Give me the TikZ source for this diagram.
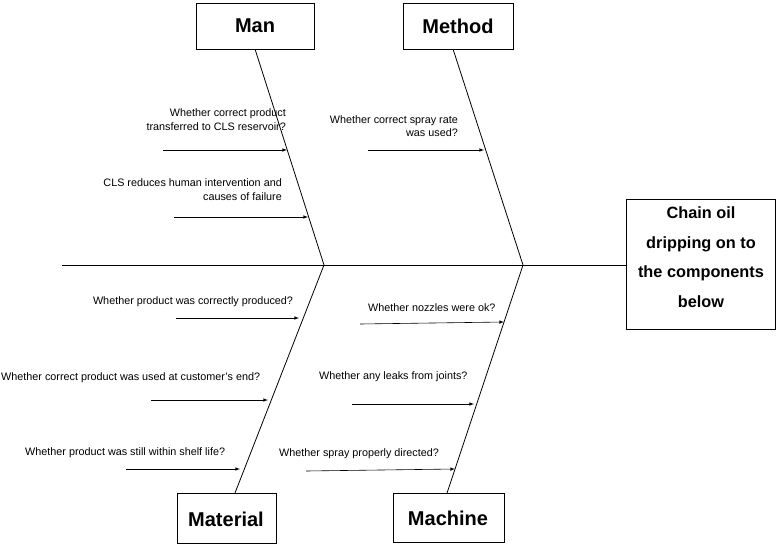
\documentclass[tikz,border=0pt]{standalone}
\usepackage{fontspec}
\setmainfont{Liberation Sans}
\begin{document}
\begin{tikzpicture}[x=1pt,y=-1pt,
  box/.style={draw,thick,minimum width=0pt},
  ttl/.style={font=\fontsize{20}{22}\selectfont\bfseries},
  lbl/.style={font=\fontsize{10.8}{13.5}\selectfont,inner sep=0pt},
  arr/.style={-latex,line width=0.6pt},
  bone/.style={line width=0.8pt}]
\useasboundingbox (0,0) rectangle (776,544);
\draw[box] (196,3) rectangle (314,49); \node[ttl] (man) at (255,26) {Man};
\draw[box] (403,3) rectangle (513,49); \node[ttl] (method) at (458,26) {Method};
\draw[box] (177,493) rectangle (276,543); \node[ttl] (material) at (226,519) {Material};
\draw[box] (393,493) rectangle (504,542); \node[ttl] (machine) at (448,518) {Machine};
\draw[box] (626,199) rectangle (775,329);
\node[font=\fontsize{16.3}{29.5}\selectfont\bfseries,align=center] (effect) at (701,257) {Chain oil\\dripping on to\\the components\\below};
\coordinate (s0) at (62,265); \coordinate (s1) at (626,265);
\coordinate (j1) at (324,265); \coordinate (j2) at (523,265);
\draw[bone] (s0) -- (s1);
\draw[bone] (255,49) -- (j1); \draw[bone] (453,49) -- (j2);
\draw[bone] (j1) -- (235,493); \draw[bone] (j2) -- (447,493);
\coordinate (a1) at (163,150); \coordinate (b1) at (287,150);
\coordinate (a2) at (174,217); \coordinate (b2) at (308,217);
\coordinate (a3) at (368,150); \coordinate (b3) at (484,150);
\coordinate (a4) at (176,318); \coordinate (b4) at (299,318);
\coordinate (a5) at (151,400); \coordinate (b5) at (268,400);
\coordinate (a6) at (126,469); \coordinate (b6) at (240,469);
\coordinate (a7) at (360,324); \coordinate (b7) at (504,322);
\coordinate (a8) at (352,404); \coordinate (b8) at (474,404);
\coordinate (a9) at (306,471); \coordinate (b9) at (455,469);
\foreach \i in {1,...,9} \draw[arr] (a\i) -- (b\i);
\node[lbl,align=right,anchor=east] (t1) at (286,119.5) {Whether correct product\\transferred to CLS reservoir?};
\node[lbl,align=right,anchor=east] (t2) at (282,189.5) {CLS reduces human intervention and\\causes of failure};
\node[lbl,align=right,anchor=east] (t3) at (458,126) {Whether correct spray rate\\was used?};
\node[lbl] (t4) at (193,302) {Whether product was correctly produced?};
\node[lbl,anchor=west] (t5) at (1,378) {Whether correct product was used at customer's end?};
\node[lbl,anchor=west] (t6) at (25,453) {Whether product was still within shelf life?};
\node[lbl,anchor=west] (t7) at (368,308) {Whether nozzles were ok?};
\node[lbl,anchor=west] (t8) at (319,377) {Whether any leaks from joints?};
\node[lbl,anchor=west] (t9) at (279,454) {Whether spray properly directed?};
\end{tikzpicture}
\end{document}
